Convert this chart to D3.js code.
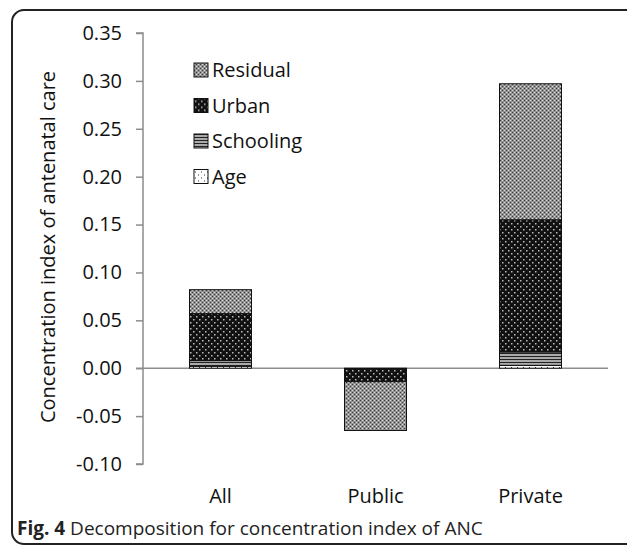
<!DOCTYPE html>
<html>
<head>
<meta charset="utf-8">
<script src="https://cdn.jsdelivr.net/npm/d3@7"></script>
<style>
  body { margin: 0; background: #fff; }
  svg { display: block; }
</style>
</head>
<body>
<script>
let width = 627;
let height = 548;

let categories = ['All', 'Public', 'Private'];
let factors = ['Age', 'Schooling', 'Urban', 'Residual'];
let legendOrder = ['Residual', 'Urban', 'Schooling', 'Age'];
let ageValues = [0.002, 0.000, 0.003];
let schoolingValues = [0.006, -0.001, 0.014];
let urbanValues = [0.049, -0.013, 0.138];
let residualValues = [0.025, -0.051, 0.142];
let yTicks = [-0.10, -0.05, 0.00, 0.05, 0.10, 0.15, 0.20, 0.25, 0.30, 0.35];

let rows = categories.map(function(c, i) {
    return { cat: c, Age: ageValues[i], Schooling: schoolingValues[i], Urban: urbanValues[i], Residual: residualValues[i] };
});

let font = 'Open Sans, sans-serif';

let svg = d3.select('body').append('svg')
            .attr('width', width)
            .attr('height', height);

// fill patterns
let defs = svg.append('defs');

let pRes = defs.append('pattern').attr('id', 'pat-Residual')
    .attr('width', 4).attr('height', 4).attr('patternUnits', 'userSpaceOnUse');
pRes.append('rect').attr('width', 4).attr('height', 4).attr('fill', '#939393');
pRes.append('rect').attr('x', 0).attr('y', 0).attr('width', 1).attr('height', 1).attr('fill', '#3c3c3c');
pRes.append('rect').attr('x', 2).attr('y', 2).attr('width', 1).attr('height', 1).attr('fill', '#3c3c3c');
pRes.append('rect').attr('x', 2).attr('y', 0).attr('width', 1).attr('height', 1).attr('fill', '#d8d8d8');
pRes.append('rect').attr('x', 0).attr('y', 2).attr('width', 1).attr('height', 1).attr('fill', '#d8d8d8');

let pUrb = defs.append('pattern').attr('id', 'pat-Urban')
    .attr('width', 6).attr('height', 6).attr('patternUnits', 'userSpaceOnUse');
pUrb.append('rect').attr('width', 6).attr('height', 6).attr('fill', '#111');
pUrb.append('rect').attr('x', 1).attr('y', 1).attr('width', 1.5).attr('height', 1.5).attr('fill', '#bbb');
pUrb.append('rect').attr('x', 4).attr('y', 4).attr('width', 1.5).attr('height', 1.5).attr('fill', '#bbb');

let pSch = defs.append('pattern').attr('id', 'pat-Schooling')
    .attr('width', 4).attr('height', 3).attr('patternUnits', 'userSpaceOnUse');
pSch.append('rect').attr('width', 4).attr('height', 3).attr('fill', '#aaa');
pSch.append('rect').attr('y', 2).attr('width', 4).attr('height', 1).attr('fill', '#222');

let pAge = defs.append('pattern').attr('id', 'pat-Age')
    .attr('width', 6).attr('height', 6).attr('patternUnits', 'userSpaceOnUse');
pAge.append('rect').attr('width', 6).attr('height', 6).attr('fill', '#fff');
pAge.append('rect').attr('x', 1).attr('y', 1).attr('width', 1).attr('height', 1).attr('fill', '#333');
pAge.append('rect').attr('x', 4).attr('y', 4).attr('width', 1).attr('height', 1).attr('fill', '#333');

// outer frame
svg.append('rect')
    .attr('x', 12).attr('y', 10)
    .attr('width', 640).attr('height', 534)
    .attr('rx', 12).attr('ry', 12)
    .attr('fill', 'none')
    .attr('stroke', '#222')
    .attr('stroke-width', 2);

let x0 = 143, x1 = 608;

let yScale = d3.scaleLinear()
                .domain([-0.10, 0.35])
                .range([464, 33]);

let xScale = d3.scaleBand()
                .domain(categories)
                .range([x0, x1])
                .paddingInner(0.6)
                .paddingOuter(0.3);

let stack = d3.stack().keys(factors).offset(d3.stackOffsetDiverging);
let series = stack(rows);

// zero line
svg.append('line')
    .attr('x1', x0 - 7).attr('x2', x1)
    .attr('y1', yScale(0)).attr('y2', yScale(0))
    .attr('stroke', '#8c8c8c')
    .attr('stroke-width', 1.5);

// bars
svg.append('g').selectAll('g')
    .data(series)
    .enter().append('g')
    .attr('fill', function(d) { return 'url(#pat-' + d.key + ')'; })
    .selectAll('rect')
    .data(function(d) { return d; })
    .enter().append('rect')
    .attr('x', function(d) { return xScale(d.data.cat); })
    .attr('width', xScale.bandwidth())
    .attr('y', function(d) { return yScale(Math.max(d[0], d[1])); })
    .attr('height', function(d) { return Math.abs(yScale(d[0]) - yScale(d[1])); })
    .attr('stroke', '#111')
    .attr('stroke-width', 1);

// y axis
let fmt = d3.format('.2f');
let yAxis = d3.axisLeft(yScale)
    .tickValues(yTicks)
    .tickSize(7)
    .tickPadding(14)
    .tickFormat(function(d) { return fmt(d).replace('\u2212', '-'); });

let yg = svg.append('g')
    .attr('transform', 'translate(' + x0 + ',0)')
    .call(yAxis);
yg.selectAll('path, line').attr('stroke', '#8c8c8c').attr('stroke-width', 1.5);
yg.select('.domain').attr('d', 'M-7,' + yScale(0.35) + 'H0V' + yScale(-0.10) + 'H-7');
yg.selectAll('text')
    .attr('fill', '#111')
    .style('font-family', font)
    .style('font-size', '20px');

// category labels
svg.append('g').selectAll('text')
    .data(categories)
    .enter().append('text')
    .attr('x', function(d) { return xScale(d) + xScale.bandwidth() / 2; })
    .attr('y', 503)
    .attr('text-anchor', 'middle')
    .style('font-family', font)
    .style('font-size', '20px')
    .attr('fill', '#111')
    .text(function(d) { return d; });

// y title
svg.append('text')
    .attr('transform', 'translate(55,247) rotate(-90)')
    .attr('text-anchor', 'middle')
    .style('font-family', font)
    .style('font-size', '20px')
    .attr('fill', '#111')
    .text('Concentration index of antenatal care');

// legend
let legend = svg.append('g').selectAll('g')
    .data(legendOrder)
    .enter().append('g')
    .attr('transform', function(d, i) { return 'translate(194,' + (70 + i * 35.5) + ')'; });

legend.append('rect')
    .attr('y', -7)
    .attr('width', 14).attr('height', 14)
    .attr('fill', function(d) { return 'url(#pat-' + d + ')'; })
    .attr('stroke', '#111')
    .attr('stroke-width', 1);

legend.append('text')
    .attr('x', 18)
    .attr('y', 7)
    .style('font-family', font)
    .style('font-size', '20px')
    .attr('fill', '#111')
    .text(function(d) { return d; });

// caption
let cap = svg.append('text')
    .attr('x', 17)
    .attr('y', 535)
    .style('font-family', font)
    .style('font-size', '19px')
    .attr('fill', '#222');
cap.append('tspan').style('font-weight', 'bold').text('Fig. 4');
cap.append('tspan').text(' Decomposition for concentration index of ANC');
</script>
</body>
</html>
